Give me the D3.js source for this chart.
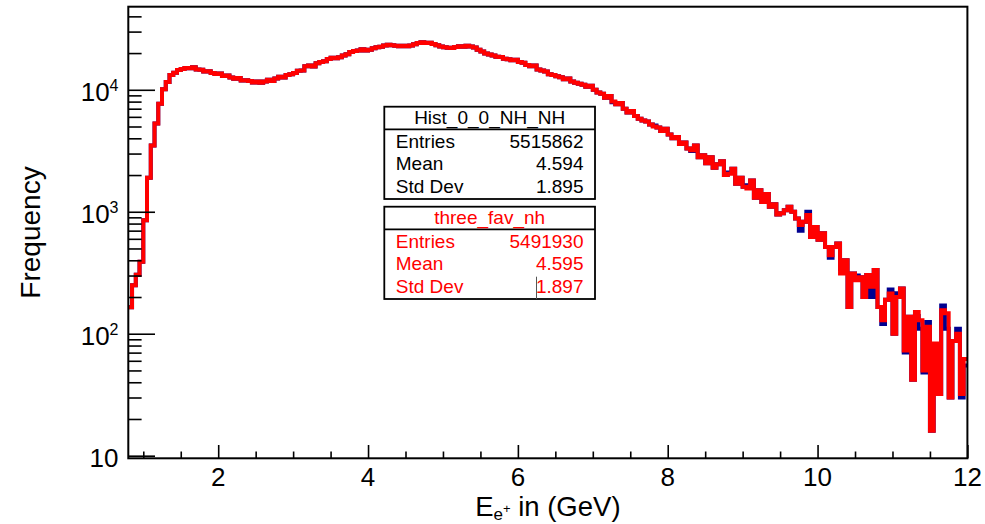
<!DOCTYPE html>
<html>
<head>
<meta charset="utf-8">
<script src="https://cdn.jsdelivr.net/npm/d3@7"></script>
<style>
  html, body { margin: 0; padding: 0; background: #fff; }
  svg { display: block; font-family: "Liberation Sans", Arial, Helvetica, sans-serif; }
</style>
</head>
<body>
<svg id="chart" width="985" height="524"></svg>
<script>
// ---------------- data ----------------
const binLow = 0.8;        // lower edge of first bin (GeV)
const binWidth = 0.05;     // bin width (GeV)
const xDomain = [0.8, 12];
const yDomain = [9.52, 48000];
const xMajorTicks = [2, 4, 6, 8, 10, 12];
const yDecades = [10, 100, 1000, 10000];
const yLabelBase = ["10", "10", "10", "10"];
const yLabelExp = ["", "2", "3", "4"];

// three_fav_nh (red)
const redCounts = [
  165, 250, 305, 390, 850, 1900, 3500, 5300, 7700, 10100, 11600, 13200, 13800, 14500,
  14800, 15100, 15000, 15300, 14700, 14600, 14100, 14200, 13700, 13500,
  13600, 13000, 13100, 12600, 12300, 12500, 11900, 12000, 11800, 11500,
  11700, 11400, 11700, 12100, 11800, 12400, 12800, 12600, 13200, 13400,
  13700, 14300, 14400, 15600, 15800, 15500, 16500, 16900, 17100, 17900,
  18300, 18100, 18500, 19100, 19600, 20400, 20800, 21000, 21500, 21000,
  21300, 21900, 22300, 22500, 23100, 23400, 23200, 23000, 22800, 23000,
  22700, 23100, 23600, 24200, 24500, 24200, 24300, 23700, 23200, 22600,
  22300, 22100, 22000, 22400, 22700, 22500, 23000, 22600, 22200, 21300,
  20600, 19800, 19500, 19100, 18700, 18600, 18000, 17800, 17500, 17600,
  16900, 16700, 16000, 15600, 15800, 14700, 14400, 14100, 13400, 13200,
  12900, 12700, 12200, 12400, 11700, 11400, 11200, 11000, 10600, 10800,
  10000, 9500, 9300, 8600, 8900, 8000, 7600, 7800, 7000, 6500,
  6700, 6100, 5800, 5600, 5500, 5200, 5000, 4900, 4600, 4800,
  4300, 4000, 4100, 3600, 3700, 3300, 3200, 3500, 2800, 2900,
  2500, 2800, 2300, 2450, 2600, 2000, 2050, 2250, 1700, 1900,
  1600, 1550, 1800, 1300, 1500, 1200, 1400, 1100, 1150, 950,
  970, 1030, 1100, 1000, 880, 780, 830, 940, 620, 750,
  590, 665, 515, 440, 515, 550, 312, 400, 166, 312,
  275, 290, 200, 303, 243, 333, 166, 129, 190, 214,
  100, 200, 235, 73, 138, 42, 151, 129, 50, 114,
  16, 83, 32, 156, 147, 30, 87, 100, 32, 62
];

// Hist_0_0_NH_NH (blue): identical to red except in these bins [bin index, count]
const blueDifferentBins = [
  [129, 7900], [140, 5100], [150, 3150], [160, 2100], [165, 1650],
  [179, 700], [181, 1000], [187, 420], [190, 340], [194, 300],
  [198, 200], [201, 120], [203, 230], [205, 215], [207, 70],
  [210, 140], [211, 110], [212, 48], [213, 125], [215, 60],
  [217, 170], [218, 110], [221, 110], [222, 30], [223, 55]
];

const statsBlue = { title: "Hist_0_0_NH_NH", rows: [["Entries", "5515862"], ["Mean", "4.594"], ["Std Dev", "1.895"]] };
const statsRed = { title: "three_fav_nh", rows: [["Entries", "5491930"], ["Mean", "4.595"], ["Std Dev", "1.897"]] };

// ---------------- layout ----------------
const L = 128.3, R = 967.4, T = 6.7, B = 458.3;
const svg = d3.select("#chart");
const x = d3.scaleLinear().domain(xDomain).range([L, R]);
const y = d3.scaleLog().domain(yDomain).range([B, T]);

const blueCounts = redCounts.slice();
blueDifferentBins.forEach(([i, v]) => { blueCounts[i] = v; });

svg.append("defs").append("clipPath").attr("id", "frameClip")
  .append("rect").attr("x", L).attr("y", T).attr("width", R - L).attr("height", B - T);

function histPoints(counts) {
  const pts = counts.map((c, i) => [binLow + i * binWidth, c]);
  pts.push([binLow + counts.length * binWidth, counts[counts.length - 1]]);
  return pts;
}
const line = d3.line().x(d => x(d[0])).y(d => y(d[1])).curve(d3.curveStepAfter);

const plot = svg.append("g").attr("clip-path", "url(#frameClip)");
plot.append("path").datum(histPoints(blueCounts))
  .attr("d", line).attr("fill", "none").attr("stroke", "#000090").attr("stroke-width", 4);
plot.append("path").datum(histPoints(redCounts))
  .attr("d", line).attr("fill", "none").attr("stroke", "#ff0000").attr("stroke-width", 4);

// ---------------- axes ----------------
const xMinor = d3.range(1.0, 12.01, 0.5).filter(v => Math.abs(v - Math.round(v / 2) * 2) > 1e-6);
svg.append("g").attr("transform", `translate(0,${B})`)
  .call(d3.axisBottom(x).tickValues(xMajorTicks).tickSize(-13.3).tickFormat(""))
  .call(g => g.select(".domain").remove())
  .selectAll("line").attr("stroke", "#000").attr("stroke-width", 1.6);
svg.append("g").attr("transform", `translate(0,${B})`)
  .call(d3.axisBottom(x).tickValues(xMinor).tickSize(-6.8).tickFormat(""))
  .call(g => g.select(".domain").remove())
  .selectAll("line").attr("stroke", "#000").attr("stroke-width", 1.6);

const yMinor = [];
yDecades.forEach(d => { for (let k = 2; k <= 9; k++) { const v = d * k; if (v < yDomain[1]) yMinor.push(v); } });
svg.append("g").attr("transform", `translate(${L},0)`)
  .call(d3.axisLeft(y).tickValues(yDecades).tickSize(-26.7).tickFormat(""))
  .call(g => g.select(".domain").remove())
  .selectAll("line").attr("stroke", "#000").attr("stroke-width", 1.6);
svg.append("g").attr("transform", `translate(${L},0)`)
  .call(d3.axisLeft(y).tickValues(yMinor).tickSize(-13.3).tickFormat(""))
  .call(g => g.select(".domain").remove())
  .selectAll("line").attr("stroke", "#000").attr("stroke-width", 1.6);

// frame
svg.append("rect").attr("x", L).attr("y", T).attr("width", R - L).attr("height", B - T)
  .attr("fill", "none").attr("stroke", "#000").attr("stroke-width", 2);

// x labels
svg.append("g").selectAll("text").data(xMajorTicks).join("text")
  .attr("x", d => x(d)).attr("y", 485.5).attr("text-anchor", "middle")
  .attr("font-size", 26).attr("fill", "#000").text(d => d);

// y labels
yDecades.forEach((d, i) => {
  const t = svg.append("text").attr("x", 118.5).attr("y", y(d) + 11.7)
    .attr("text-anchor", "end").attr("font-size", 26).attr("fill", "#000");
  t.append("tspan").text(yLabelBase[i]);
  if (yLabelExp[i]) t.append("tspan").attr("font-size", 16).attr("dy", -10).text(yLabelExp[i]);
});

// axis titles
const xt = svg.append("text").attr("x", (L + R) / 2).attr("y", 515.5).attr("text-anchor", "middle")
  .attr("font-size", 27.5).attr("fill", "#000");
xt.append("tspan").text("E");
xt.append("tspan").attr("font-size", 17).attr("dy", 4.5).text("e");
xt.append("tspan").attr("font-size", 13).attr("dy", -7).text("+");
xt.append("tspan").attr("font-size", 27.5).attr("dy", 2.5).text(" in (GeV)");

svg.append("text").attr("transform", `translate(40,${(T + B) / 2}) rotate(-90)`)
  .attr("text-anchor", "middle").attr("font-size", 28).attr("fill", "#000").text("Frequency");

// ---------------- stats boxes ----------------
function statsBox(stats, top, color, divider) {
  const bx = 384.3, bw = 210.7, rowH = 22.6;
  const g = svg.append("g");
  const h = 23 + rowH * 3 + 1.5;
  g.append("rect").attr("x", bx).attr("y", top).attr("width", bw).attr("height", h)
    .attr("fill", "#fff").attr("stroke", "#000").attr("stroke-width", 1.8);
  g.append("line").attr("x1", bx).attr("x2", bx + bw).attr("y1", top + 22.6).attr("y2", top + 22.6)
    .attr("stroke", "#000").attr("stroke-width", 1.8);
  g.append("text").attr("x", bx + bw / 2).attr("y", top + 17.3).attr("text-anchor", "middle")
    .attr("font-size", 19).attr("fill", color).text(stats.title);
  stats.rows.forEach((r, i) => {
    const by = top + 41 + i * rowH;
    g.append("text").attr("x", bx + 11.5).attr("y", by).attr("font-size", 19).attr("fill", color).text(r[0]);
    g.append("text").attr("x", bx + bw - 11.5).attr("y", by).attr("text-anchor", "end")
      .attr("font-size", 19).attr("fill", color).text(r[1]);
  });
  if (divider) {
    g.append("line").attr("x1", 536.5).attr("x2", 536.5).attr("y1", top + 70).attr("y2", top + h)
      .attr("stroke", "#555").attr("stroke-width", 1);
  }
}
statsBox(statsBlue, 106.7, "#000", false);
statsBox(statsRed, 206.7, "#ff0000", true);
</script>
</body>
</html>
